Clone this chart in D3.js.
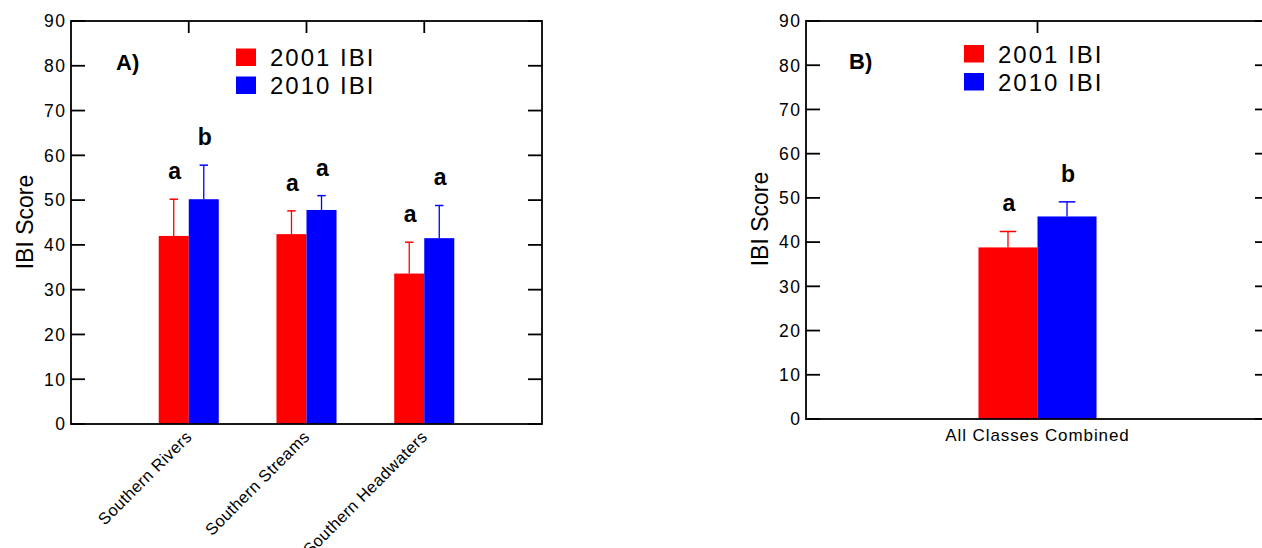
<!DOCTYPE html>
<html>
<head>
<meta charset="utf-8">
<script src="https://cdn.jsdelivr.net/npm/d3@7/dist/d3.min.js"></script>
<style>
  html, body { margin: 0; padding: 0; background: #fff; }
  svg { display: block; }
  text { font-family: "Liberation Sans", Arial, sans-serif; fill: #000; }
</style>
</head>
<body>
<svg id="chart" width="1262" height="548"></svg>
<script>
// ---- data ----
const seriesNames = ["2001 IBI", "2010 IBI"];
const seriesColors = ["#ff0000", "#0000ff"];
const yTicks = [0, 10, 20, 30, 40, 50, 60, 70, 80, 90];

const categoriesA = ["Southern Rivers", "Southern Streams", "Southern Headwaters"];
const ibi2001A = [42.0, 42.4, 33.6];
const err2001A = [8.2, 5.2, 7.0];
const ibi2010A = [50.2, 47.8, 41.5];
const err2010A = [7.6, 3.2, 7.3];
const letters2001A = ["a", "a", "a"];
const letters2010A = ["b", "a", "a"];

const categoriesB = ["All Classes Combined"];
const ibi2001B = [38.8];
const err2001B = [3.6];
const ibi2010B = [45.8];
const err2010B = [3.3];
const letters2001B = ["a"];
const letters2010B = ["b"];

const svg = d3.select("#chart");

function drawPanel(cfg) {
  const g = svg.append("g");
  const x = d3.scaleLinear().domain([0, cfg.categories.length + 1]).range([cfg.left, cfg.right]);
  const y = d3.scaleLinear().domain([0, 90]).range([cfg.bottom, cfg.top]);
  const bw = x(cfg.barUnits) - x(0);
  const capHalf = bw * 0.14;
  const tickLen = 14;

  const series = [
    {vals: cfg.v1, errs: cfg.e1, letters: cfg.l1, color: seriesColors[0], off: -1},
    {vals: cfg.v2, errs: cfg.e2, letters: cfg.l2, color: seriesColors[1], off: 0}
  ];

  // bars, error bars, letters
  series.forEach(s => {
    cfg.categories.forEach((c, i) => {
      const cx = x(i + 1);
      const x0 = cx + s.off * bw;
      g.append("rect")
        .attr("x", x0).attr("y", y(s.vals[i]))
        .attr("width", bw).attr("height", y(0) - y(s.vals[i]))
        .attr("fill", s.color);
      const mx = x0 + bw / 2;
      const topV = s.vals[i] + s.errs[i];
      g.append("line").attr("x1", mx).attr("x2", mx)
        .attr("y1", y(s.vals[i])).attr("y2", y(topV))
        .attr("stroke", s.color).attr("stroke-width", 1.3);
      g.append("line").attr("x1", mx - capHalf).attr("x2", mx + capHalf)
        .attr("y1", y(topV)).attr("y2", y(topV))
        .attr("stroke", s.color).attr("stroke-width", 1.5);
      g.append("text").attr("x", mx + 1).attr("y", y(topV) - 20)
        .attr("text-anchor", "middle")
        .style("font-size", "23px").style("font-weight", "bold")
        .text(s.letters[i]);
    });
  });

  // frame
  const frame = g.append("g").attr("stroke", "#000").attr("stroke-width", 1.8).attr("fill", "none");
  frame.append("rect").attr("x", cfg.left).attr("y", cfg.top)
    .attr("width", cfg.right - cfg.left).attr("height", cfg.bottom - cfg.top);

  // y ticks (inside, both sides) and labels
  yTicks.forEach(t => {
    frame.append("line").attr("x1", cfg.left).attr("x2", cfg.left + tickLen)
      .attr("y1", y(t)).attr("y2", y(t));
    frame.append("line").attr("x1", cfg.right - tickLen).attr("x2", cfg.right)
      .attr("y1", y(t)).attr("y2", y(t));
    g.append("text").attr("x", cfg.left - 4.5).attr("y", y(t)).attr("dy", "0.36em")
      .attr("text-anchor", "end")
      .style("font-size", "17.5px").style("letter-spacing", "1.5px")
      .text(t);
  });

  // top ticks at categories
  cfg.categories.forEach((c, i) => {
    frame.append("line").attr("x1", x(i + 1)).attr("x2", x(i + 1))
      .attr("y1", cfg.top).attr("y2", cfg.top + 12);
  });

  // category labels
  cfg.categories.forEach((c, i) => {
    if (cfg.rotate) {
      g.append("text")
        .attr("transform", `translate(${x(i + 1) + 4},${cfg.bottom + 14}) rotate(-45)`)
        .attr("text-anchor", "end")
        .style("font-size", "16.5px").style("letter-spacing", "0.4px")
        .text(c);
    } else {
      g.append("text").attr("x", x(i + 1)).attr("y", cfg.bottom + 22)
        .attr("text-anchor", "middle")
        .style("font-size", "17px").style("letter-spacing", "0.9px")
        .text(c);
    }
  });

  // y axis title
  g.append("text")
    .attr("transform", `translate(${cfg.yTitleX},${cfg.yTitleY}) rotate(-90)`)
    .attr("text-anchor", "middle")
    .style("font-size", "23px")
    .text("IBI Score");

  // panel label
  g.append("text").attr("x", cfg.panelX).attr("y", cfg.panelY)
    .style("font-size", "22px").style("font-weight", "bold")
    .text(cfg.panel);

  // legend
  seriesNames.forEach((n, k) => {
    g.append("rect").attr("x", cfg.legX).attr("y", cfg.legY + k * 28)
      .attr("width", 20).attr("height", 17.5).attr("fill", seriesColors[k]);
    g.append("text").attr("x", cfg.legX + 34).attr("y", cfg.legY + k * 28 + 17.5)
      .style("font-size", "24px").style("letter-spacing", "2px")
      .text(n);
  });
}

drawPanel({
  categories: categoriesA, v1: ibi2001A, e1: err2001A, v2: ibi2010A, e2: err2010A,
  l1: letters2001A, l2: letters2010A,
  left: 71, right: 542, top: 21, bottom: 424, barUnits: 0.255, rotate: true,
  yTitleX: 33, yTitleY: 222, panel: "A)", panelX: 116, panelY: 70,
  legX: 236, legY: 48.5
});

drawPanel({
  categories: categoriesB, v1: ibi2001B, e1: err2001B, v2: ibi2010B, e2: err2010B,
  l1: letters2001B, l2: letters2010B,
  left: 806, right: 1269, top: 21, bottom: 419, barUnits: 0.255, rotate: false,
  yTitleX: 768, yTitleY: 219, panel: "B)", panelX: 849, panelY: 69,
  legX: 964, legY: 45
});
</script>
</body>
</html>
